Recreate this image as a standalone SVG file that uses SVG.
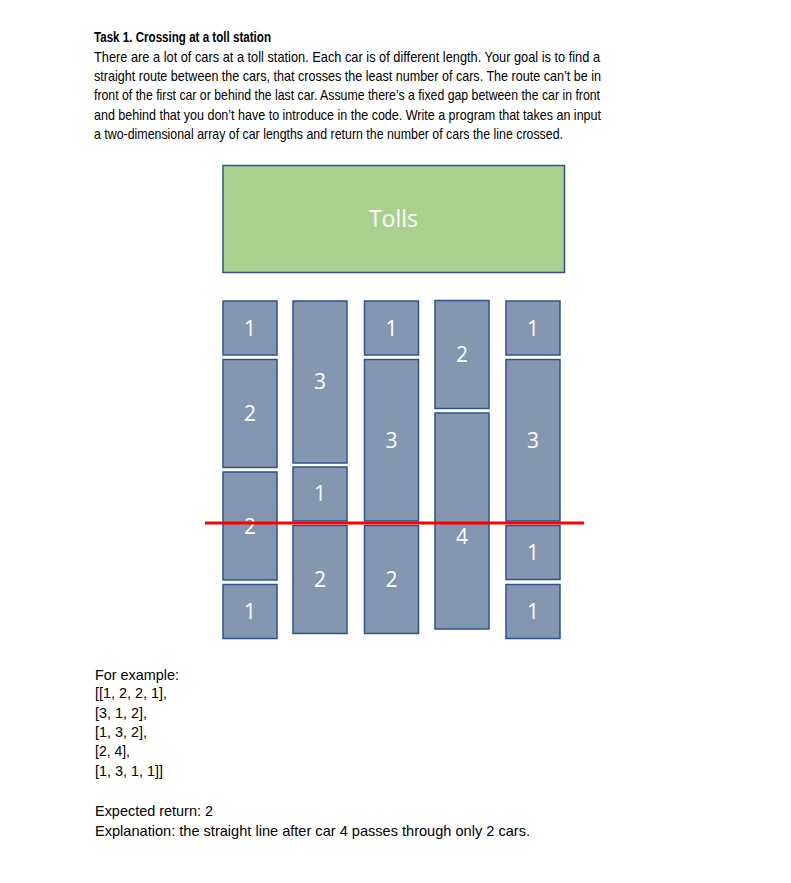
<svg xmlns="http://www.w3.org/2000/svg" width="791" height="883" viewBox="0 0 791 883">
<style>
.t{font-family:"Liberation Sans","Open Sans",sans-serif;font-size:14.5px;fill:#000}
.b{font-weight:bold}
.car{fill:#8497B0;stroke:#2F528F;stroke-width:1.5}
.toll{fill:#A9D18E;stroke:#2F528F;stroke-width:1.5}
.n{font-family:"Open Sans","Liberation Sans",sans-serif;font-size:21px;fill:#fff;text-anchor:middle}
</style>
<rect width="791" height="883" fill="#fff"/>
<g id="text-top">
<text class="t b" x="94" y="42" textLength="177" lengthAdjust="spacingAndGlyphs">Task 1. Crossing at a toll station</text>
<text class="t" x="94" y="61.5" textLength="506" lengthAdjust="spacingAndGlyphs">There are a lot of cars at a toll station.  Each car is of different length. Your goal is to find a</text>
<text class="t" x="94" y="81" textLength="507" lengthAdjust="spacingAndGlyphs">straight route between the cars, that crosses the least number of cars. The route can’t be in</text>
<text class="t" x="94" y="100" textLength="506" lengthAdjust="spacingAndGlyphs">front of the first car or behind the last car. Assume there’s a fixed gap between the car in front</text>
<text class="t" x="94" y="119.5" textLength="507" lengthAdjust="spacingAndGlyphs">and behind that you don’t have to introduce in the code. Write a program that takes an input</text>
<text class="t" x="94" y="139" textLength="469" lengthAdjust="spacingAndGlyphs">a two-dimensional array of car lengths and return the number of cars the line crossed.</text>
</g>
<g id="tolls">
<rect class="toll" x="223" y="165.5" width="341.5" height="107"/>
<text x="393.5" y="227" font-family="Open Sans, Liberation Sans, sans-serif" font-size="23" fill="#fff" text-anchor="middle">Tolls</text>
</g>
<g id="lane1">
<rect class="car" x="223" y="301" width="54" height="54"/><text class="n" x="250" y="335.5">1</text>
<rect class="car" x="223" y="359.5" width="54" height="108"/><text class="n" x="250" y="421">2</text>
<rect class="car" x="223" y="472" width="54" height="108"/><text class="n" x="250" y="534">2</text>
<rect class="car" x="223" y="584.5" width="54" height="54"/><text class="n" x="250" y="619">1</text>
</g>
<g id="lane2">
<rect class="car" x="293" y="301" width="54" height="162"/><text class="n" x="320" y="389">3</text>
<rect class="car" x="293" y="467" width="54" height="54"/><text class="n" x="320" y="501">1</text>
<rect class="car" x="293" y="525.5" width="54" height="108"/><text class="n" x="320" y="587">2</text>
</g>
<g id="lane3">
<rect class="car" x="364.5" y="301" width="54" height="54"/><text class="n" x="391.5" y="335.5">1</text>
<rect class="car" x="364.5" y="359.5" width="54" height="161.5"/><text class="n" x="391.5" y="448">3</text>
<rect class="car" x="364.5" y="525.5" width="54" height="108"/><text class="n" x="391.5" y="587">2</text>
</g>
<g id="lane4">
<rect class="car" x="435" y="300.5" width="54" height="108"/><text class="n" x="462" y="362">2</text>
<rect class="car" x="435" y="413" width="54" height="216"/><text class="n" x="462" y="544">4</text>
</g>
<g id="lane5">
<rect class="car" x="506" y="301" width="54" height="54"/><text class="n" x="533" y="335.5">1</text>
<rect class="car" x="506" y="359.5" width="54" height="161.5"/><text class="n" x="533" y="448">3</text>
<rect class="car" x="506" y="525.5" width="54" height="54"/><text class="n" x="533" y="559.5">1</text>
<rect class="car" x="506" y="584.5" width="54" height="54"/><text class="n" x="533" y="619">1</text>
</g>
<g id="connectors">
<line x1="205" y1="523" x2="584" y2="523" stroke="#FF0000" stroke-width="3"/>
</g>
<g id="text-bottom">
<text class="t" x="95" y="679.5" textLength="84" lengthAdjust="spacingAndGlyphs">For example:</text>
<text class="t" x="95" y="698" textLength="72" lengthAdjust="spacingAndGlyphs">[[1, 2, 2, 1],</text>
<text class="t" x="95" y="717.5" textLength="52" lengthAdjust="spacingAndGlyphs">[3, 1, 2],</text>
<text class="t" x="95" y="736.5" textLength="52" lengthAdjust="spacingAndGlyphs">[1, 3, 2],</text>
<text class="t" x="95" y="756" textLength="35" lengthAdjust="spacingAndGlyphs">[2, 4],</text>
<text class="t" x="95" y="775.5" textLength="68" lengthAdjust="spacingAndGlyphs">[1, 3, 1, 1]]</text>
<text class="t" x="95" y="816" textLength="118" lengthAdjust="spacingAndGlyphs">Expected return: 2</text>
<text class="t" x="95" y="835.5" textLength="435" lengthAdjust="spacingAndGlyphs">Explanation: the straight line after car 4 passes through only 2 cars.</text>
</g>
</svg>
